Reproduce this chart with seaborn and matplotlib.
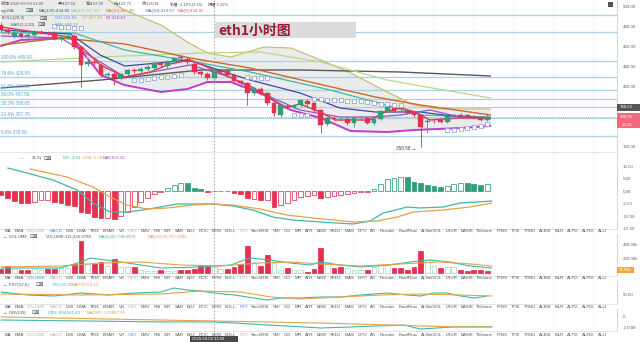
import numpy as np
import pandas as pd
import matplotlib
matplotlib.use("Agg")
import matplotlib.pyplot as plt
from matplotlib.patches import Rectangle
import seaborn as sns

# ---------------- data ----------------
OPEN = [481,476,470,472,470,471,474,473.5,473,467,469,470,459,442,444,441,431,432,428,432,
        436,435,437,438,443,440,444,449,447,442,434,432,428,435,435,431,425,423,413,417,
        413,403,391,400,399,401,405,403,396,382,388,387,387,383,388,388,383,387,395,399,
        395,395,393,391,384,385,386,384,390,391,391,389,389,386]
CLOSE = [476,474,473,470,471,474,473.5,473,467,469,470,459,441,444,443,431,432,428,432,436,
         435,437,439,443,441,444,448,448,444,434,432,428,435,434.5,431,425,423,413,418,413,
         403,393,401,399,400,406,402,396,381,388,387.5,387.2,383,388,388.3,383,387,395,400,395,
         395.3,393,391,379,385,384.7,384,390,391,390.5,389,388.5,386,388.95]
HIGH = [484,478,475,474,473,476,476,475,475,471,472,472,460,446,446,443,434,434,433,437,
        438,439,441,444,445,446,449,451,449,444,436,434,437,437,437,432,426,424,419,419,
        414,404,402,402,402,407,407,404,397,389,390,389,389,389,390,389,388,396,401,401,
        397,397,395,392,387,386,387,391,392,393,392,391,390,393]
LOW = [474,472,468,468,468,470,472,471,466,465,467,457,419,440,441,429,429,421,426,430,
       433,433,435,436,439,438,442,446,442,432,430,426,424,433,429,423,421,401,411,411,
       401,390,389,397,397,399,400,394,373,380,386,385,381,379,386,382,381,386,394,394,
       393,392,389,358.58,373,383,383,383,389,389,388,387,385,385]

MA120_X = [0, 15, 22.5, 30, 45, 60, 73.5]
MA120_Y = [418, 426, 431, 436, 436, 434, 430]
MA60_X = [0, 9, 18.6, 30, 39, 48, 58, 63, 73.5]
MA60_Y = [444, 447, 450, 453, 454, 444, 426, 420, 408]
MA30_X = [0, 9, 18.6, 28.4, 37.4, 46.4, 56.2, 63, 73.5]
MA30_Y = [461, 468, 462, 448, 438, 424, 409, 401, 391]
MAT_X = [0, 11, 18.6, 30, 37.4, 49.4, 56.2, 63, 73.5]
MAT_Y = [473, 473, 456, 443, 434, 416, 404, 391, 389]
MA10_X = [0, 10.4, 14.9, 18.6, 23.6, 28.1, 33.6, 37.4, 44.9, 50.9, 56.2, 63, 68.9, 73.5]
MA10_Y = [476, 472, 451, 440, 443, 446, 434, 426, 413, 398, 394, 394, 389, 388]
MAP_X = [0, 9, 14.9, 18.6, 28.4, 34.4, 37.4, 44.9, 50.9, 56.2, 60, 64.4, 68.9, 73.5]
MAP_Y = [470, 468, 444, 429, 441, 429, 418, 396, 389, 389, 391, 396, 389, 388]
MA5_X = [0, 6, 10.4, 12.6, 14.9, 18.6, 22.4, 25.4, 28.4, 30.6, 32.9, 37.4, 40.4, 42.6,
         44.9, 47.9, 50.2, 55.4, 57.7, 60, 62.2, 64.4, 68.9, 73.5]
MA5_Y = [479, 473, 469, 456, 441, 429, 434, 442, 446, 440, 433, 420, 408, 398,
         402, 394, 386, 386, 394, 398, 394, 386, 388, 388]

BOLL_X = [0, 3, 10.5, 15, 18.5, 24, 28, 31, 34.5, 39.5, 43.5, 48, 52.5, 58, 62, 65.5, 69, 73.5]
BOLL_UP = [546, 541, 526, 511, 496, 481, 464, 453, 449, 459, 458, 446, 433, 414, 401, 397, 397, 397]
BOLL_LO = [460, 466, 468, 431, 421, 414, 417, 424, 424, 411, 396, 388, 375, 374, 376, 377, 378, 380]

SAR_X = [8, 9, 10, 11, 12, 20, 21, 22, 23, 24, 25, 26, 27, 37, 38, 39, 40, 44, 45, 46,
         47, 48, 49, 50, 51, 52, 53, 54, 55, 56, 57, 58, 59, 60, 67, 68, 69, 70, 71, 72, 73]
SAR_Y = [480, 479.5, 479, 478.5, 478, 426, 426, 427, 428, 429, 429, 430, 431, 429, 428, 428, 428,
         391, 391, 391, 407, 407, 406.5, 406, 406, 405.5, 405, 405, 404, 403, 402.5, 402, 401, 401,
         376, 376.5, 377, 378, 379, 380, 382]

FIB_LEVELS = [370.00, 387.70, 398.65, 407.50, 416.35, 428.95, 445.00, 473.65, 491.35]
FIB_LABELS = ["0.0% 370.00", "23.6% 387.70", "38.2% 398.65", "50.0% 407.50",
              "61.8% 416.35", "78.6% 428.95", "100.0% 445.00", "", ""]
PRICE_TICKS = [360, 420, 440, 460, 480, 500]

MACD_HIST = [-1.6, -2.9, -3.9, -4.9, -4.9, -4.3, -3.6, -3.6, -4.5, -4.7,
             -5.6, -6.0, -8.5, -8.9, -10.3, -10.9, -10.9, -11.3, -10.0, -8.3,
             -6.3, -4.3, -2.9, -1.3, -0.5, 1.1, 2.4, 3.1, 3.1, 1.1,
             0.7, -0.5, 0.1, 0.2, 0.1, -0.7, -1.3, -2.9, -3.3, -3.6,
             -3.6, -6.3, -5.6, -4.9, -3.6, -2.3, -1.9, -1.6, -2.9, -2.3,
             -1.9, -1.6, -1.3, -0.7, -0.2, -0.2, 0.7, 3.0, 4.7, 5.1,
             5.5, 5.5, 3.7, 3.1, 2.4, 2.1, 1.7, 2.0, 2.8, 3.1,
             3.1, 2.8, 2.4, 2.7]
MACD_FILLED = [1, 1, 1, 1, 1, 0, 0, 0, 1, 1,
               1, 1, 1, 1, 1, 1, 0, 1, 0, 0,
               0, 0, 0, 0, 0, 0, 0, 0, 1, 1,
               1, 1, 1, 1, 1, 1, 1, 1, 0, 1,
               0, 1, 0, 0, 0, 0, 0, 0, 1, 0,
               0, 0, 0, 0, 0, 0, 0, 0, 0, 0,
               0, 1, 1, 1, 1, 1, 1, 0, 0, 0,
               1, 1, 1, 0]
DIF_X = [1, 3.9, 7.8, 11.4, 13.8, 16.4, 18.9, 21.3, 23.9, 26.4, 31.8, 34.8, 37.8, 40.8,
         43.8, 47.9, 52.9, 55.4, 57.4, 61, 62.9, 66.4, 68.9, 71.5, 73.7]
DIF_Y = [9.2, 7.2, 4.4, 0.4, -4.8, -8.4, -8.4, -7.6, -6.4, -5.2, -5.2, -6.0, -7.6, -10.4,
         -11.6, -12.4, -13.2, -12.0, -8.8, -6.4, -6.8, -6.4, -4.8, -4.4, -4.0]
DEA_X = [4.4, 9.9, 13.8, 16.4, 18.9, 21.9, 24.9, 28.8, 31.8, 34.8, 38.9, 42.9, 46.8,
         52.9, 56.5, 59.5, 61.9, 66.4, 70.4, 73.7]
DEA_Y = [8.8, 5.6, 1.6, -2.4, -5.6, -7.2, -6.8, -5.6, -5.2, -5.6, -7.2, -9.6, -10.8,
         -12.4, -12.0, -10.4, -8.4, -7.6, -6.4, -4.8]
MACD_TICKS = [-15, -10, -5, 0, 5, 10]

VOL_K = [57, 100, 57, 43, 43, 57, 40, 57, 57, 80,
         70, 130, 460, 130, 130, 150, 100, 200, 90, 80,
         86, 40, 30, 30, 43, 30, 30, 43, 43, 57,
         120, 110, 90, 50, 57, 80, 130, 390, 150, 100,
         260, 140, 40, 73, 43, 43, 20, 57, 350, 160,
         70, 90, 73, 40, 40, 43, 90, 120, 120, 73,
         73, 43, 86, 310, 190, 100, 70, 86, 86, 43,
         30, 43, 43, 30]
VOL_FILLED = [1, 1, 0, 1, 1, 0, 0, 1, 1, 0,
              0, 1, 1, 0, 1, 1, 0, 1, 0, 0,
              1, 0, 0, 0, 1, 0, 0, 1, 1, 1,
              1, 1, 0, 0, 1, 1, 1, 1, 0, 1,
              1, 0, 0, 1, 0, 0, 1, 1, 1, 0,
              1, 1, 0, 0, 0, 1, 0, 0, 0, 1,
              1, 1, 1, 1, 0, 0, 1, 0, 0, 1,
              1, 1, 1, 1]
VMA5_X = [0, 9, 12, 13.4, 18, 21, 24, 30, 34.5, 37.4, 40.4, 43.4, 46.4, 47.9, 50.9, 54,
          58.4, 61.4, 64.4, 67.4, 70.4, 73.7]
VMA5_Y = [71, 71, 157, 214, 157, 114, 71, 86, 114, 214, 186, 143, 114, 157, 114, 86,
          114, 157, 186, 157, 100, 71]
VMA10_X = [0, 9, 15, 21, 27, 33, 39, 43.4, 48, 54, 60, 63, 66, 70.4, 73.7]
VMA10_Y = [86, 100, 143, 157, 114, 100, 143, 157, 129, 100, 129, 143, 157, 129, 100]
VOL_TICKS = [200, 400]

PSY_X = [0, 4, 8, 12, 16, 20, 24, 26, 28, 30, 32, 35, 38, 40, 42, 45, 48, 51, 54, 58,
         61, 63, 65, 67, 69, 71, 73]
PSY_Y = [58, 46, 42, 54, 46, 54, 58, 74, 66, 62, 54, 46, 34, 26, 34, 34, 38, 38, 46, 54,
         46, 42, 54, 54, 42, 34, 42]
MAPSY_X = [0, 12, 24, 30, 36, 40.5, 45, 51, 57, 63, 69, 73.7]
MAPSY_Y = [50, 46, 50, 62, 58, 38, 30, 38, 46, 50, 46, 42]

OBV_X = [0, 24, 32, 40, 48, 53, 60.5, 63, 68, 73.7]
OBV_Y = [-0.55, -0.9, -0.9, -1.45, -2.0, -1.8, -1.45, -2.2, -1.8, -1.8]
MAOBV_X = [0, 24, 48, 58, 68, 73.7]
MAOBV_Y = [0.0, -0.55, -1.1, -1.45, -1.8, -1.8]

TAB_NAMES = ["MA", "EMA", "VOLUME", "MACD", "DMI", "DMA", "TRIX", "BRAR", "VR", "OBV", "EMV",
             "RSI", "WR", "SAR", "KDJ", "ROC", "MTM", "BOLL", "PSY", "StochRSI", "SMI", "CCI",
             "MFI", "ATR", "BBW", "SKDJ", "BIAS", "DPO", "AD", "Position", "FundFlow",
             "AI-NetVOL", "LSUR", "BASIS", "TVolume", "FTBS", "TTSI", "TTMU", "AI-BSI", "MLR",
             "AI-PD", "AI-FDI", "AI-LI"]

# ---------------- style ----------------
sns.set_theme(style="white")
plt.rcParams["font.family"] = ["Liberation Sans", "DejaVu Sans", "Noto Sans CJK SC"]
LAT = ["Liberation Sans", "DejaVu Sans"]
CJK = ["Noto Sans CJK SC", "DejaVu Sans"]

RED = "#e5304f"
GREEN = "#2f9e76"
TEAL = "#3fb8a6"
ORANGE = "#e2a34a"
GRID = "#f1f1f1"

W, H = 640, 342
fig = plt.figure(figsize=(6.4, 3.42), dpi=100)
fig.patch.set_facecolor("white")

def ax_px(x0, y0, x1, y1):
    return fig.add_axes([x0 / W, 1 - y1 / H, (x1 - x0) / W, (y1 - y0) / H])

XMIN = -0.15
XMAX = XMIN + 617 / 6.66
idx = np.arange(len(CLOSE))

def style_panel(ax, ticks, fmt, ylim):
    ax.set_xlim(XMIN, XMAX)
    ax.set_ylim(*ylim)
    ax.set_xticks([])
    ax.yaxis.tick_right()
    ax.set_yticks(ticks)
    ax.set_yticklabels([fmt(t) for t in ticks])
    ax.tick_params(axis="y", length=0, pad=4, labelsize=3.2, labelcolor="#666666")
    for s in ["top", "left"]:
        ax.spines[s].set_visible(False)
    ax.spines["right"].set_color("#cfcfcf")
    ax.spines["right"].set_linewidth(0.6)
    ax.spines["bottom"].set_color("#e2e2e2")
    ax.spines["bottom"].set_linewidth(0.6)
    for gx in np.arange(4.85, XMAX, 6):
        ax.axvline(gx, color=GRID, lw=0.5, zorder=0)
    ax.set_facecolor("white")

def line(ax, xs, ys, color, lw, z=3):
    sns.lineplot(x=xs, y=ys, ax=ax, color=color, linewidth=lw, estimator=None,
                 sort=False, legend=False, zorder=z)

# ---------------- main price panel ----------------
ax = ax_px(0, 0, 617, 152)
style_panel(ax, PRICE_TICKS, lambda t: f"{t:.2f}", (354, 506))

ax.fill_between(BOLL_X, BOLL_UP, BOLL_LO, color="#e6e6e6", alpha=0.8, lw=0, zorder=0.5)
for lev in FIB_LEVELS:
    ax.axhline(lev, color="#a9d2e4", lw=0.9, zorder=1)
tr = ax.get_yaxis_transform()
for lev, lab in zip(FIB_LEVELS, FIB_LABELS):
    if lab:
        ax.text(0.002, lev + 1.0, lab, transform=tr, fontsize=3.3, color="#5f9fcf",
                va="bottom", ha="left", zorder=6)

line(ax, BOLL_X, BOLL_UP, "#cbbd72", 0.9)
line(ax, BOLL_X, BOLL_LO, "#c03ccc", 1.4)
line(ax, MA120_X, MA120_Y, "#5a5a5a", 1.0)
line(ax, MA60_X, MA60_Y, "#b5d98e", 0.9)
line(ax, MA30_X, MA30_Y, "#cc6a2a", 1.0)
line(ax, MAT_X, MAT_Y, TEAL, 0.9)
line(ax, MA10_X, MA10_Y, "#3b4aa8", 0.9)
line(ax, MAP_X, MAP_Y, "#8e5cc4", 0.9)
line(ax, MA5_X, MA5_Y, "#d93a52", 1.0)

op = np.array(OPEN); cl = np.array(CLOSE)
cols = [GREEN if c >= o else RED for o, c in zip(op, cl)]
ax.vlines(idx, LOW, HIGH, colors=cols, lw=0.6, zorder=4)
ax.bar(idx, np.maximum(np.abs(cl - op), 0.5), bottom=np.minimum(op, cl), width=0.72,
       color=cols, edgecolor=cols, lw=0.3, zorder=5)
ax.scatter(SAR_X, SAR_Y, s=5, facecolors="white", edgecolors="#8ea5d6", linewidths=0.55,
           marker="s", zorder=6)
ax.axhline(CLOSE[-1], color="#9a9a9a", lw=0.6, ls=(0, (1, 1.5)), zorder=2)
ax.text(63 - 0.7, 358.58 - 1.5, "358.58 \u2192", fontsize=3.3, color="#444444",
        ha="right", va="center", zorder=7, family=LAT)

# ---------------- MACD panel ----------------
axm = ax_px(0, 153, 617, 229)
style_panel(axm, MACD_TICKS, lambda t: f"{t:.2f}", (-15.2, 15.2))
mh = np.array(MACD_HIST)
mcol = [GREEN if v > 0 else RED for v in mh]
mface = [c if f else "white" for c, f in zip(mcol, MACD_FILLED)]
axm.bar(idx, mh, width=0.72, color=mface, edgecolor=mcol, lw=0.55, zorder=3)
line(axm, DIF_X, DIF_Y, TEAL, 0.9, z=4)
line(axm, DEA_X, DEA_Y, ORANGE, 0.9, z=4)

# ---------------- Volume panel ----------------
axv = ax_px(0, 234, 617, 276)
style_panel(axv, VOL_TICKS, lambda t: f"{t:.2f}k", (-43, 557))
vcol = [RED if f else "#a9d9c9" for f in VOL_FILLED]
vface = [RED if f else "white" for f in VOL_FILLED]
axv.bar(idx, VOL_K, width=0.72, color=vface, edgecolor=vcol, lw=0.55, zorder=3)
line(axv, VMA5_X, VMA5_Y, TEAL, 0.8, z=4)
line(axv, VMA10_X, VMA10_Y, ORANGE, 0.8, z=4)

# ---------------- PSY panel ----------------
axp = ax_px(0, 281, 617, 304)
style_panel(axp, [50], lambda t: f"{t:.2f}", (10, 102))
line(axp, PSY_X, PSY_Y, TEAL, 0.8)
line(axp, MAPSY_X, MAPSY_Y, ORANGE, 0.8)

# ---------------- OBV panel ----------------
axo = ax_px(0, 309, 617, 331)
style_panel(axo, [-2, 0], lambda t: "0" if t == 0 else f"{t:.2f}M", (-2.55, 1.45))
line(axo, OBV_X, OBV_Y, TEAL, 0.8)
line(axo, MAOBV_X, MAOBV_Y, ORANGE, 0.8)

# ---------------- overlay (texts, labels, crosshair) ----------------
ov = fig.add_axes([0, 0, 1, 1], zorder=20)
ov.set_xlim(0, W); ov.set_ylim(H, 0); ov.axis("off"); ov.patch.set_alpha(0)

ov.plot([214, 214], [0, 336], color="#a0a0a0", lw=0.6, ls=(0, (2, 2)))

# title box
ov.add_patch(Rectangle((215, 22), 141, 16, color="#d9d9d9", alpha=0.9, lw=0))
ov.text(218, 30.5, "eth1小时图", family=CJK, fontsize=10, fontweight="bold",
        color="#9b1d2f", va="center", ha="left")

def t(x, y, s, c="#555555", fs=3.2, cjk=False, **kw):
    ov.text(x, y, s, color=c, fontsize=fs, va="center", ha="left",
            family=CJK if cjk else LAT, **kw)

ICON = "\u22a1\u22a0"
def icon(x, y):
    ov.text(x, y, ICON, color="#444444", fontsize=3.6, va="center", ha="left",
            family=["DejaVu Sans"])

t(1, 4, "时间 2020-09-03 13:00", "#555555", 3.0, True)
t(58, 4, "开:427.60", "#555555", 3.0, True)
t(86, 4, "高:437.00", "#555555", 3.0, True)
t(114, 4, "低:423.76", "#555555", 3.0, True)
t(142, 4, "收:426.81", "#555555", 3.0, True)
t(170, 4, "涨幅:-2.10%(9.15)", "#555555", 3.0, True)
t(208, 4, "振幅:3.10%", "#555555", 3.0, True)

t(1, 11, "ngt,MA"); icon(25, 11)
t(39, 11, "MA(120):434.80", "#555555")
t(71, 11, "MA(60):447.40", "#9ccb6a")
t(106, 11, "MA(30):407.40", "#d07a3a")
t(146, 11, "MA(10):419.67", "#6a5cc4")
t(178, 11, "MA(5):434.85", "#e0608a")

t(1, 18, "-BOLL(20,2)"); icon(39, 18)
t(55, 18, "MID:434.86", "#6f9fd8")
t(82, 18, "UP:467.40", "#b8ad60")
t(106, 18, "LB:418.43", "#c03ccc")

t(10, 25, "-SAR(2,2,20)"); icon(38, 25)
t(55, 25, "SAR:440.13", "#6f8fd0")

t(20, 158, "\u2014", "#888888"); t(32, 158, "26,9)"); icon(44, 158)
t(63, 158, "DIF:-3.43", TEAL); t(83, 158, "DEA:-5.58", ORANGE); t(103, 158, "MACD:0.33", "#a044c0")

t(3, 237, "\u2192 VOLUME"); icon(29, 237)
t(46, 237, "VOLUME:111,236.0788", "#555555")
t(99, 237, "MA(5):85,738.8993", TEAL)
t(148, 237, "MA(10):65,767.0280", ORANGE)

t(3, 285, "\u2192 PSY(12,6)"); icon(36, 285)
t(53, 285, "PSY:50.00", TEAL); t(72, 285, "MAPSY:58.33", ORANGE)

t(3, 313, "\u2192 OBV(30)"); icon(31, 313)
t(48, 313, "OBV:-894361.49", TEAL); t(87, 313, "MAOBV:-539867.36", ORANGE)

# right side price boxes
ov.add_patch(Rectangle((617, 103.5), 23, 7.5, color="#555555", lw=0))
t(620, 107.3, "398.62", "white", 3.1)
ov.add_patch(Rectangle((617, 113), 23, 15, color="#ef6a7c", lw=0))
t(620, 117, "388.95", "white", 3.1)
t(622, 124.5, "13:12", "white", 3.1)
ov.add_patch(Rectangle((617, 266.5), 17, 6.5, color="#f2a63a", lw=0))
t(618.5, 269.8, "73.83k", "white", 2.9)
ov.add_patch(Rectangle((607.5, 1.5), 5.5, 5.5, color="#555555", lw=0))

# crosshair time label at bottom
ov.add_patch(Rectangle((190, 336), 48, 7, color="#4a4a4a", lw=0))
t(192, 339.5, "2020-09-03 13:00", "white", 3.0)

# indicator tab rows
fig.canvas.draw()
renderer = fig.canvas.get_renderer()
DIM = {"VOLUME", "MACD", "OBV", "PSY"}

def tab_row(y, active):
    items = []
    for name in TAB_NAMES:
        c = "#4a8fe0" if name == active else ("#b5b5b5" if name in DIM else "#555555")
        tx = ov.text(0, y, name, fontsize=3.2, color=c, va="center", ha="left", family=LAT)
        items.append(tx)
    widths = [it.get_window_extent(renderer).width for it in items]
    gap = (602 - sum(widths)) / (len(items) - 1)
    x = 5
    for it, wdt in zip(items, widths):
        it.set_x(x)
        x += wdt + gap

tab_row(230.5, "MACD")
tab_row(278, "VOLUME")
tab_row(306.5, "PSY")
tab_row(334.5, "OBV")

fig.savefig("out.png", dpi=100, facecolor="white")
